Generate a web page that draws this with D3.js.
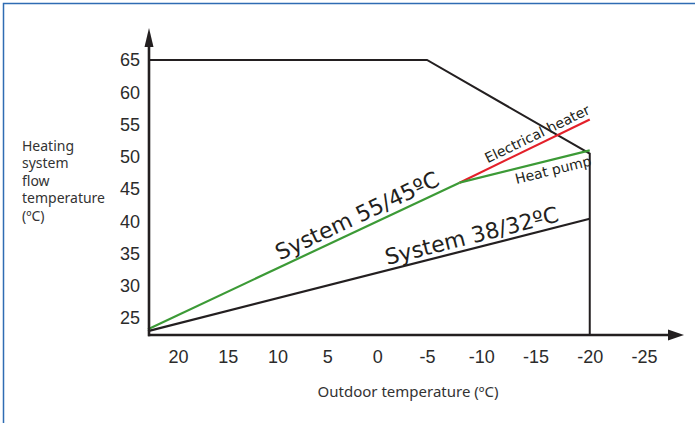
<!DOCTYPE html>
<html><head><meta charset="utf-8">
<script src="https://cdn.jsdelivr.net/npm/d3@7/dist/d3.min.js"></script>
<style>body{margin:0;background:#fff}svg{display:block}</style>
</head><body>
<svg id="c" width="695" height="423"></svg>
<script>
// ---- data ----
const xTicks = [20, 15, 10, 5, 0, -5, -10, -15, -20, -25];
const yTicks = [25, 30, 35, 40, 45, 50, 55, 60, 65];
const yLabelLines = ["Heating", "system", "flow", "temperature", "(ºC)"];
const xTitle = "Outdoor temperature (ºC)";
// heating limit curve (outdoor temp, flow temp)
const limitX = [23, -5, -20, -20];
const limitY = [65, 65, 50.5, 22.4];
// System 55/45 (heat pump range)
const sys55X = [23, -8];
const sys55Y = [23.3, 46];
// heat pump branch
const pumpX = [-8, -20];
const pumpY = [46, 51];
// electrical heater branch
const elecX = [-8, -20];
const elecY = [46, 55.8];
// System 38/32
const sys38X = [23, -20];
const sys38Y = [23, 40.4];

// ---- scales ----
const svg = d3.select("#c");
const x = d3.scaleLinear().domain([23, -5, -25]).range([148, 427, 644]);
const y = d3.scaleLinear().domain([22.4, 65]).range([335, 60]);
const ink = "#231f20";

// frame
svg.append("rect").attr("x", 3.5).attr("y", 3.5).attr("width", 720).attr("height", 440)
  .attr("fill", "none").attr("stroke", "#2f6cb3").attr("stroke-width", 1.5);

const line = d3.line().x(d => x(d[0])).y(d => y(d[1]));
function drawLine(xs, ys, color, w) {
  svg.append("path").datum(xs.map((v, i) => [v, ys[i]]))
    .attr("d", line).attr("fill", "none").attr("stroke", color)
    .attr("stroke-width", w).attr("stroke-linejoin", "miter");
}
drawLine(limitX, limitY, ink, 2);
drawLine(sys38X, sys38Y, ink, 2.2);
drawLine(elecX, elecY, "#e3202a", 2.2);
drawLine(pumpX, pumpY, "#3c9a36", 2.2);
drawLine(sys55X, sys55Y, "#3c9a36", 2.2);

// axes
const x0 = x(23), yb = y(22.4);
svg.append("line").attr("x1", x0).attr("x2", 672).attr("y1", yb).attr("y2", yb)
  .attr("stroke", ink).attr("stroke-width", 2.6);
svg.append("path").attr("d", `M684,${yb} L668,${yb - 5.5} L668,${yb + 5.5} Z`).attr("fill", ink);
svg.append("line").attr("x1", x0 + 1).attr("x2", x0 + 1).attr("y1", yb + 1.3).attr("y2", 42)
  .attr("stroke", ink).attr("stroke-width", 2.6);
svg.append("path").attr("d", `M${x0 + 1},28 L${x0 - 3.5},47 L${x0 + 5.5},47 Z`).attr("fill", ink);

const xAxis = svg.append("g").attr("transform", `translate(0,${yb})`)
  .call(d3.axisBottom(x).tickValues(xTicks).tickSize(0).tickPadding(15).tickFormat(d => d < 0 ? "-" + (-d) : d));
xAxis.select(".domain").remove();
xAxis.selectAll("text").attr("font-family", "Liberation Sans, Arial, sans-serif")
  .attr("font-size", 18).attr("fill", "#2b2b2b");

const yAxis = svg.append("g").attr("transform", `translate(${x0 - 8},0)`)
  .call(d3.axisLeft(y).tickValues(yTicks).tickSize(0).tickPadding(0));
yAxis.select(".domain").remove();
yAxis.selectAll("text").attr("font-family", "Liberation Sans, Arial, sans-serif")
  .attr("font-size", 18).attr("fill", "#2b2b2b");

// titles
svg.append("text").attr("x", 408).attr("y", 397).attr("text-anchor", "middle")
  .attr("font-family", "Noto Sans, sans-serif").attr("font-size", 15).attr("fill", "#333")
  .text(xTitle);
const yt = svg.append("text").attr("font-family", "Noto Sans, sans-serif")
  .attr("font-size", 14).attr("fill", "#333");
yLabelLines.forEach((s, i) => yt.append("tspan").attr("x", 22).attr("y", 151 + i * 17.4).text(s));

// rotated line labels
function lineLabel(xs, ys, t, txt, size, dy) {
  const p0 = [x(xs[0]), y(ys[0])], p1 = [x(xs[1]), y(ys[1])];
  const px = p0[0] + (p1[0] - p0[0]) * t, py = p0[1] + (p1[1] - p0[1]) * t;
  const ang = Math.atan2(p1[1] - p0[1], p1[0] - p0[0]) * 180 / Math.PI;
  svg.append("text").attr("transform", `translate(${px},${py}) rotate(${ang})`)
    .attr("dy", dy).attr("text-anchor", "middle")
    .attr("font-family", "DejaVu Sans, Verdana, sans-serif").attr("font-size", size)
    .attr("fill", ink).text(txt);
}
lineLabel(sys55X, sys55Y, 0.69, "System 55/45ºC", 22, -6);
lineLabel(sys38X, sys38Y, 0.74, "System 38/32ºC", 22, -5);
lineLabel(elecX, elecY, 0.63, "Electrical heater", 14, -5);
lineLabel(pumpX, pumpY, 0.7, "Heat pump", 14, 15);
</script>
</body></html>
